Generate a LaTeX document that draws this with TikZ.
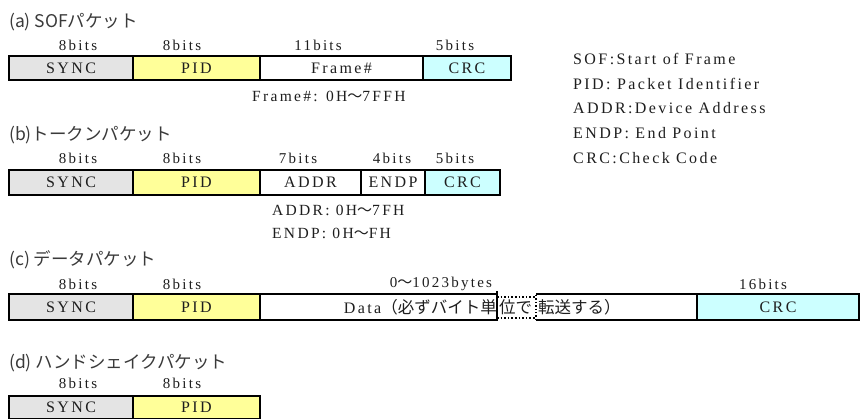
\documentclass[tikz,border=0pt]{standalone}
\usepackage{fontspec}
\setmainfont{Liberation Serif}
\newfontfamily\spcd[LetterSpace=15]{Liberation Serif}
\newfontfamily\cjk{Noto Sans CJK JP}
\definecolor{syncgray}{HTML}{E4E4E4}
\definecolor{pidyellow}{HTML}{FFFF99}
\definecolor{crccyan}{HTML}{CCFFFF}
\definecolor{ink}{HTML}{1E1E1E}
\definecolor{tink}{HTML}{3A3A3A}
\begin{document}
\begin{tikzpicture}[x=1pt,y=-1pt,
  seg/.style={draw=black, line width=2.8pt, anchor=north west, inner sep=0pt, outer sep=0pt,
    text=ink, font=\spcd\fontsize{16}{16}\selectfont},
  bitlbl/.style={inner sep=0pt, text=ink, font=\spcd\fontsize{15}{15}\selectfont},
  ttl/.style={anchor=west, inner sep=0pt, text=tink, font=\cjk\fontsize{17.5}{18}\selectfont},
  note/.style={anchor=west, inner sep=0pt, text=ink, font=\spcd\fontsize{15.5}{16}\selectfont},
  leg/.style={anchor=west, inner sep=0pt, text=ink, font=\spcd\fontsize{16}{16}\selectfont},
  dtxt/.style={inner sep=0pt, text=ink, font=\spcd\fontsize{16}{16}\selectfont}]
\useasboundingbox (0,0) rectangle (866,419);
\fill[white] (0,0) rectangle (866,419);

% ---------- (a) SOF packet
\node[ttl] (ta) at (9,22) {(a) SOFパケット};
\node[bitlbl] (ba1) at (78,45) {8bits};
\node[bitlbl] (ba2) at (182,45) {8bits};
\node[bitlbl] (ba3) at (318,45) {11bits};
\node[bitlbl] (ba4) at (455,45) {5bits};
\node[seg, fill=syncgray, minimum width=124pt, minimum height=24pt] (a1) at (9,56) {SYNC};
\node[seg, fill=pidyellow, minimum width=127pt, minimum height=24pt] (a2) at (133,56) {PID};
\node[seg, fill=white, minimum width=163pt, minimum height=24pt] (a3) at (260,56) {Frame\#};
\node[seg, fill=crccyan, minimum width=88pt, minimum height=24pt] (a4) at (423,56) {CRC};
\node[note] (fa) at (252,96) {Frame\#: 0H{\cjk\fontsize{15}{15}\selectfont ～}7FFH};

% legend
\node[leg] (l1) at (573,59) {SOF:Start of Frame};
\node[leg] (l2) at (573,84) {PID: Packet Identifier};
\node[leg] (l3) at (573,108) {ADDR:Device Address};
\node[leg] (l4) at (573,133) {ENDP: End Point};
\node[leg] (l5) at (573,158) {CRC:Check Code};

% ---------- (b) token packet
\node[ttl] (tb) at (9,135) {(b)トークンパケット};
\node[bitlbl] (bb1) at (78,158) {8bits};
\node[bitlbl] (bb2) at (182,158) {8bits};
\node[bitlbl] (bb3) at (298,158) {7bits};
\node[bitlbl] (bb4) at (392,158) {4bits};
\node[bitlbl] (bb5) at (455,158) {5bits};
\node[seg, fill=syncgray, minimum width=124pt, minimum height=25pt] (b1) at (9,170) {SYNC};
\node[seg, fill=pidyellow, minimum width=127pt, minimum height=25pt] (b2) at (133,170) {PID};
\node[seg, fill=white, minimum width=101pt, minimum height=25pt] (b3) at (260,170) {ADDR};
\node[seg, fill=white, minimum width=64pt, minimum height=25pt] (b4) at (361,170) {ENDP};
\node[seg, fill=crccyan, minimum width=75pt, minimum height=25pt] (b5) at (425,170) {CRC};
\node[note] (fb1) at (272,210) {ADDR: 0H{\cjk\fontsize{15}{15}\selectfont ～}7FH};
\node[note] (fb2) at (272,233) {ENDP: 0H{\cjk\fontsize{15}{15}\selectfont ～}FH};

% ---------- (c) data packet
\node[ttl] (tc) at (9,260) {(c) データパケット};
\node[bitlbl] (bc1) at (78,284) {8bits};
\node[bitlbl] (bc2) at (182,284) {8bits};
\node[bitlbl] (bc3) at (441,284) {0{\cjk ～}1023bytes};
\node[bitlbl] (bc4) at (763,284) {16bits};
\node[seg, fill=syncgray, minimum width=124pt, minimum height=26pt] (c1) at (9,294) {SYNC};
\node[seg, fill=pidyellow, minimum width=127pt, minimum height=26pt] (c2) at (133,294) {PID};
\node[seg, draw=none, fill=white, minimum width=437pt, minimum height=26pt] (c3) at (260,294) {};
\node[seg, fill=crccyan, minimum width=162pt, minimum height=26pt] (c4) at (697,294) {CRC};
\node[dtxt, anchor=east] (dt1) at (497,307) {Data{\cjk\fontsize{16.5}{17}\selectfont （必ずバイト単}};
\node[dtxt, anchor=west] (dt2) at (499,307) {{\cjk\fontsize{16.5}{17}\selectfont 位で}};
\node[dtxt, anchor=west] (dt3) at (538,307) {{\cjk\fontsize{16.5}{17}\selectfont 転送する）}};
\draw[line width=2.8pt] (498,294) -- (260,294) -- (260,320) -- (498,320);
\draw[line width=2.8pt] (536,294) -- (697,294);
\draw[line width=2.8pt] (536,320) -- (697,320);
\draw[line width=1.4pt] (497,291) -- (497,321);
\draw[line width=1.6pt, dotted] (497,297) -- (536,297);
\draw[line width=1.6pt, dotted] (497,318) -- (536,318);
\draw[line width=1.4pt, dotted] (536,295) -- (536,319);

% ---------- (d) handshake packet
\node[ttl] (td) at (9,363) {(d) ハンドシェイクパケット};
\node[bitlbl] (bd1) at (78,383) {8bits};
\node[bitlbl] (bd2) at (182,383) {8bits};
\node[seg, fill=syncgray, minimum width=124pt, minimum height=23pt] (d1) at (9,396) {SYNC};
\node[seg, fill=pidyellow, minimum width=127pt, minimum height=23pt] (d2) at (133,396) {PID};
\end{tikzpicture}
\end{document}
